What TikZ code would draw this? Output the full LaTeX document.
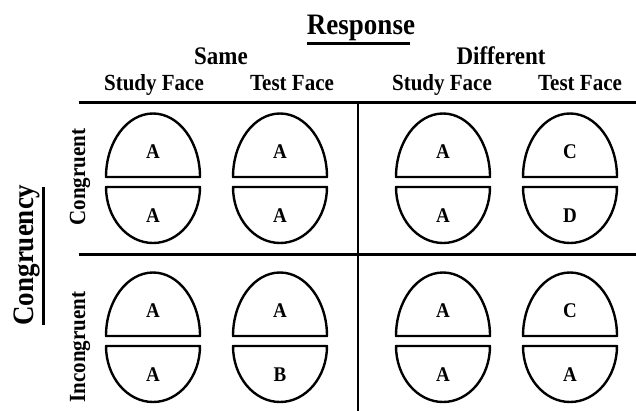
\documentclass[tikz,border=0pt]{standalone}
\usepackage{fontspec}
\setmainfont{Liberation Serif}
\begin{document}
\begin{tikzpicture}[x=1pt,y=-1pt,
  lbl/.style={inner sep=0pt,yscale=1.1,font=\fontsize{#1}{#1}\selectfont\bfseries},
  rule/.style={line width=3pt},
  shell/.style={line width=2.4pt,line join=round},
]
\useasboundingbox (0,0) rectangle (636,411);

% heading block
\node[lbl=27,anchor=base] (resp) at (361,35) {Response};
\draw[rule] (307,44) -- (410,44);
\node[lbl=23,anchor=base] (same) at (221,65) {Same};
\node[lbl=23,anchor=base] (diff) at (501,65) {Different};
\node[lbl=21,anchor=base] (h1) at (154,91) {Study Face};
\node[lbl=21,anchor=base] (h2) at (292,91) {Test Face};
\node[lbl=21,anchor=base] (h3) at (442,91) {Study Face};
\node[lbl=21,anchor=base] (h4) at (580,91) {Test Face};

% row labels
\node[rotate=90,lbl=27,anchor=base] (cong) at (33,255) {Congruency};
\draw[rule] (43,187) -- (43,325);
\node[rotate=90,lbl=21,anchor=base] (r1) at (85,177) {Congruent};
\node[rotate=90,lbl=21,anchor=base] (r2) at (85,347) {Incongruent};

% grid
\draw[rule] (79,102.5) -- (636,102.5);
\draw[rule] (79,254.5) -- (636,254.5);
\draw[line width=2.6pt] (358,103) -- (358,411);

% a split face: #1 centre x, #2 y of the upper cut, #3 upper letter, #4 lower letter, #5 name
\newcommand{\splitface}[5]{%
  \draw[shell] (#1-47,#2) arc[start angle=180,end angle=0,x radius=47pt,y radius=63.5pt] -- cycle;
  \draw[shell] (#1-47,#2+10) arc[start angle=180,end angle=360,x radius=47pt,y radius=56pt] -- cycle;
  \node[lbl=19] (#5u) at (#1,#2-25) {#3};
  \node[lbl=19] (#5l) at (#1,#2+39) {#4};
}
\splitface{153}{177}{A}{A}{fa}
\splitface{280}{177}{A}{A}{fb}
\splitface{443}{177}{A}{A}{fc}
\splitface{570}{177}{C}{D}{fd}
\splitface{153}{336}{A}{A}{fe}
\splitface{280}{336}{A}{B}{ff}
\splitface{443}{336}{A}{A}{fg}
\splitface{570}{336}{C}{A}{fh}
\end{tikzpicture}
\end{document}
